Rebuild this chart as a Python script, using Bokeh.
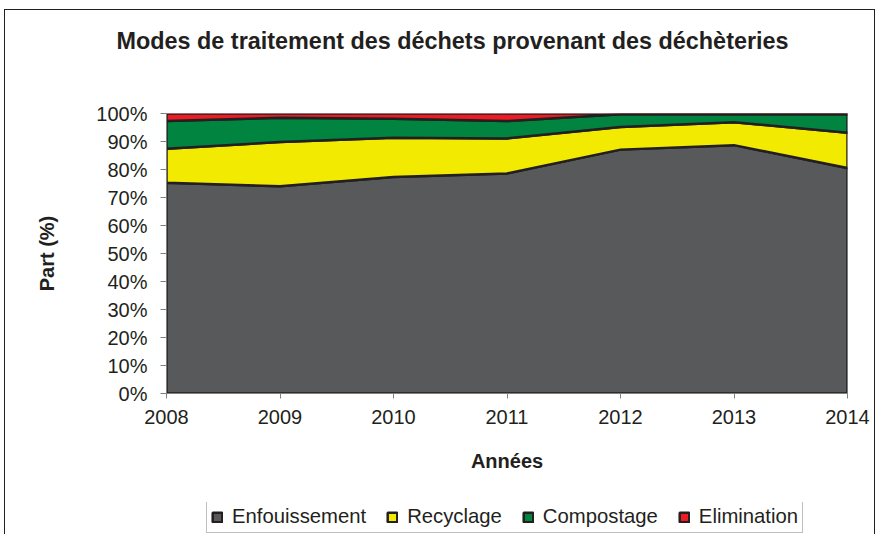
import numpy as np
from bokeh.plotting import figure
from bokeh.layouts import column
from bokeh.models import Legend, LegendItem, FixedTicker, PrintfTickFormatter, Range1d
from bokeh.embed import file_html
from bokeh.resources import INLINE

years = [2008, 2009, 2010, 2011, 2012, 2013, 2014]
enfouissement = [75.3, 74.0, 77.3, 78.6, 87.1, 88.7, 80.5]
recyclage = [12.1, 15.8, 14.0, 12.5, 8.1, 8.2, 12.6]
compostage = [9.9, 8.7, 6.8, 6.2, 4.5, 2.8, 6.6]
elimination = [2.7, 1.5, 1.9, 2.7, 0.3, 0.3, 0.3]

series_names = ["Enfouissement", "Recyclage", "Compostage", "Elimination"]
colors = ["#58595b", "#f2ea00", "#00843f", "#ed1c24"]
outline = "#231f20"
font = "Liberation Sans"

W, H = 869, 492
FL, FR, FT, FB = 161, 842, 103, 383
p = figure(width=W, height=H, output_backend="svg", toolbar_location=None,
           x_range=Range1d(2008, 2014), y_range=Range1d(0, 100),
           min_border_left=FL, min_border_right=W - FR,
           min_border_top=FT, min_border_bottom=H - FB)

p.title.text = "Modes de traitement des déchets provenant des déchèteries\n \n "
p.title.text_font = font
p.title.text_font_size = "23.4px"
p.title.text_font_style = "bold"
p.title.text_color = outline
p.title.align = "left"
p.title.offset = -50
p.title.vertical_align = "bottom"
p.title.standoff = 16

p.grid.visible = False
p.outline_line_color = None
p.background_fill_color = "white"

data = [enfouissement, recyclage, compostage, elimination]
cum = np.cumsum(np.array(data, dtype=float), axis=0)
xs = np.array(years, dtype=float)
polys = []
for i, name in enumerate(series_names):
    top = cum[i]
    bottom = cum[i - 1] if i > 0 else np.zeros(len(years))
    px = np.concatenate([xs, xs[::-1]])
    py = np.concatenate([top, bottom[::-1]])
    polys.append((px, py))
    p.patch(px, py, fill_color=colors[i], line_color=outline, line_width=2.5,
            line_join="miter")

for ax in (p.xaxis[0], p.yaxis[0]):
    ax.axis_line_color = "#808080"
    ax.major_tick_line_color = "#808080"
    ax.minor_tick_line_color = None
    ax.major_label_text_font = font
    ax.major_label_text_font_size = "20px"
    ax.major_label_text_color = outline
    ax.axis_label_text_font = font
    ax.axis_label_text_font_size = "20px"
    ax.axis_label_text_font_style = "bold"
    ax.axis_label_text_color = outline

p.xaxis.ticker = FixedTicker(ticks=years)
p.xaxis.major_tick_out = 5
p.xaxis.major_tick_in = 0
p.xaxis.major_label_standoff = 11
p.xaxis.axis_label = "Années"
p.xaxis.axis_label_standoff = 23

p.yaxis.ticker = FixedTicker(ticks=list(range(0, 101, 10)))
p.yaxis.formatter = PrintfTickFormatter(format="%d%%")
p.yaxis.major_tick_out = 6
p.yaxis.major_tick_in = 0
p.yaxis.major_label_standoff = 13
p.yaxis.axis_label = "Part (%)"
p.yaxis.axis_label_standoff = 35

# legend strip: separate small figure (its view range shows none of the areas)
p2 = figure(width=W, height=32, output_backend="svg", toolbar_location=None,
            x_axis_type=None, y_axis_type=None,
            x_range=Range1d(0, 1), y_range=Range1d(-2, -1),
            min_border_left=0, min_border_right=0, min_border_top=0, min_border_bottom=0)
p2.grid.visible = False
p2.outline_line_color = None
leg_renderers = []
for i, name in enumerate(series_names):
    px, py = polys[i]
    r = p2.patch(px, py, fill_color=colors[i], line_color=outline, line_width=2.5)
    leg_renderers.append(r)

legend = Legend(items=[LegendItem(label=n, renderers=[r]) for n, r in zip(series_names, leg_renderers)],
                orientation="horizontal", location=(40, 1))
legend.label_text_font = font
legend.label_text_font_size = "20.3px"
legend.label_text_color = outline
legend.glyph_width = 12
legend.glyph_height = 12
legend.label_standoff = 9
legend.spacing = 20
legend.padding = 4
legend.margin = 0
legend.border_line_color = "#808080"
legend.border_line_width = 1
legend.background_fill_alpha = 1
p2.add_layout(legend, "center")

layout = column(p, p2, spacing=0,
                styles={"border-top": "1px solid #231f20", "border-left": "1px solid #231f20",
                        "border-right": "1px solid #231f20", "margin-top": "9px",
                        "margin-left": "4px"})

open("out.html", "w").write(file_html(layout, INLINE))
